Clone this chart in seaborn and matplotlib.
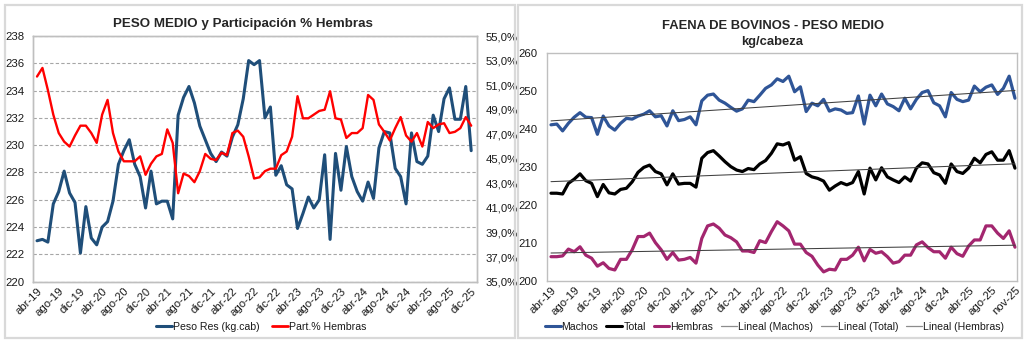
import numpy as np
import pandas as pd
import matplotlib
matplotlib.use("Agg")
import matplotlib.pyplot as plt
import seaborn as sns
from matplotlib.patches import Rectangle
from matplotlib.lines import Line2D
from matplotlib.ticker import FuncFormatter, MultipleLocator, FixedLocator

# ---------------- data ----------------
peso_res = [223.0, 223.1, 222.9, 225.7, 226.6, 228.1, 226.5, 225.8, 222.1, 225.5,
            223.2, 222.7, 224.0, 224.4, 225.9, 228.6, 229.6, 230.4, 228.6, 227.7,
            225.4, 228.1, 225.7, 225.9, 225.9, 224.6, 232.2, 233.5, 234.3, 233.1,
            231.4, 230.4, 229.4, 228.8, 229.5, 229.2, 230.6, 231.5, 233.4, 236.2,
            235.9, 236.2, 232.0, 232.8, 227.8, 228.5, 227.1, 226.8, 223.9, 225.0,
            226.2, 225.4, 226.0, 229.3, 223.1, 229.4, 226.7, 229.9, 227.7, 226.6,
            225.9, 227.3, 226.1, 229.8, 231.0, 230.9, 228.3, 227.7, 225.7, 230.9,
            228.8, 228.6, 229.2, 232.2, 231.0, 233.4, 234.2, 231.9, 231.9, 234.3,
            229.6]
part_hembras = [51.7, 52.4, 50.6, 48.6, 47.1, 46.4, 46.0, 46.9, 47.7, 47.7,
                47.1, 46.3, 48.6, 49.8, 47.1, 45.6, 44.8, 44.8, 44.8, 45.2,
                43.7, 44.6, 45.2, 45.4, 47.4, 46.3, 42.2, 43.8, 43.6, 43.1,
                44.0, 45.4, 45.0, 44.9, 45.5, 45.3, 47.1, 47.3, 46.8, 45.2,
                43.4, 43.5, 44.0, 44.2, 44.2, 45.3, 45.6, 46.8, 50.1, 48.3,
                48.3, 48.6, 48.9, 49.0, 50.5, 48.3, 48.2, 46.7, 47.1, 47.1,
                47.5, 50.2, 49.8, 47.8, 47.2, 46.5, 47.5, 48.4, 46.9, 46.4,
                47.1, 46.0, 48.0, 47.5, 47.8, 47.9, 47.1, 47.2, 47.5, 48.4,
                47.7]
machos = [241.1, 241.3, 239.5, 241.5, 243.1, 244.3, 243.1, 243.0, 238.6, 243.4,
          240.8, 239.7, 241.5, 242.8, 242.6, 243.4, 243.9, 244.8, 243.2, 243.5,
          240.8, 244.8, 242.2, 242.5, 243.2, 241.1, 247.4, 248.9, 249.2, 247.6,
          246.8, 245.7, 244.7, 245.3, 247.6, 247.2, 248.9, 250.7, 251.6, 253.2,
          252.5, 253.9, 249.8, 251.1, 244.6, 246.8, 246.1, 247.8, 244.7, 245.3,
          245.0, 244.1, 244.3, 248.7, 241.3, 248.9, 246.1, 249.2, 246.6, 245.9,
          244.8, 248.1, 245.3, 247.8, 249.6, 250.1, 246.9, 246.1, 243.2, 249.6,
          247.8, 247.2, 247.6, 251.3, 249.8, 251.0, 251.6, 249.1, 250.7, 253.9,
          248.1]
total = [223.1, 223.1, 222.9, 225.7, 226.8, 228.2, 226.4, 225.7, 222.2, 225.4,
         223.2, 222.9, 224.1, 224.4, 226.1, 228.6, 229.9, 230.5, 228.8, 228.2,
         225.3, 228.2, 225.5, 225.7, 225.7, 224.7, 232.3, 233.8, 234.3, 232.9,
         231.4, 230.1, 229.2, 228.8, 229.6, 229.3, 230.8, 231.7, 233.6, 236.1,
         235.8, 236.4, 231.8, 232.7, 228.3, 227.4, 227.0, 226.3, 223.9, 225.0,
         225.9, 225.3, 225.9, 228.8, 222.9, 229.7, 226.6, 229.8, 227.4, 226.6,
         225.9, 227.4, 226.3, 229.7, 231.1, 230.8, 228.5, 227.9, 225.7, 230.8,
         228.8, 228.3, 229.7, 232.3, 231.1, 233.3, 234.0, 231.8, 231.8, 234.3,
         229.7]
hembras = [206.4, 206.4, 206.6, 208.4, 207.7, 209.0, 206.8, 206.0, 203.9, 204.8,
           203.3, 202.9, 205.7, 205.7, 208.2, 211.7, 211.7, 212.6, 210.1, 208.2,
           205.7, 207.5, 205.5, 205.7, 206.2, 204.7, 211.2, 214.5, 215.0, 213.9,
           212.1, 211.4, 210.3, 207.9, 207.9, 207.5, 210.6, 210.1, 213.0, 215.6,
           214.5, 213.2, 209.7, 209.7, 207.5, 206.5, 204.2, 202.4, 203.1, 202.9,
           205.7, 205.7, 206.8, 208.9, 205.3, 208.3, 207.3, 207.7, 206.4, 204.7,
           205.1, 206.8, 206.8, 209.5, 210.3, 208.8, 207.7, 207.7, 206.0, 208.9,
           207.2, 206.5, 209.2, 210.8, 210.8, 214.5, 214.5, 212.6, 211.2, 213.2,
           208.9]
ticks_left = ["abr-19", "ago-19", "dic-19", "abr-20", "ago-20", "dic-20", "abr-21",
              "ago-21", "dic-21", "abr-22", "ago-22", "dic-22", "abr-23", "ago-23",
              "dic-23", "abr-24", "ago-24", "dic-24", "abr-25", "ago-25", "dic-25"]
ticks_right = ["abr-19", "ago-19", "dic-19", "abr-20", "ago-20", "dic-20", "abr-21",
               "ago-21", "dic-21", "abr-22", "ago-22", "dic-22", "abr-23", "ago-23",
               "dic-23", "abr-24", "ago-24", "dic-24", "abr-25", "ago-25", "nov-25"]

# ---------------- style ----------------
sns.set_theme(style="white")
plt.rcParams['font.family'] = ['Liberation Sans', 'DejaVu Sans']
plt.rcParams['axes.edgecolor'] = '#BFBFBF'
plt.rcParams['axes.linewidth'] = 1.0

W, H = 1024, 348
fig = plt.figure(figsize=(W / 100, H / 100), dpi=100)
fig.patch.set_facecolor('white')


def rect(l, t, r, b):
    return [l / W, 1 - b / H, (r - l) / W, (b - t) / H]


# panel borders
for (l, t, r, b) in [(5, 5, 515, 338), (518, 5, 1022, 338)]:
    fig.add_artist(Rectangle((l / W, 1 - b / H), (r - l) / W, (b - t) / H,
                             transform=fig.transFigure, fill=False,
                             edgecolor='#D9D9D9', lw=1.6))

df_left = pd.DataFrame({"idx": np.arange(len(peso_res)),
                        "peso": peso_res, "part": part_hembras})
df_right = pd.DataFrame({"idx": np.arange(len(machos)), "machos": machos,
                         "total": total, "hembras": hembras})

C_BLUE_L = '#1F4E79'
C_RED = '#FF0000'
C_MACHOS = '#2F5597'
C_TOTAL = '#000000'
C_HEMB = '#A3266F'
C_TREND = '#404040'
TXT = '#1A1A1A'

# ---------------- left chart ----------------
ax1 = fig.add_axes(rect(33, 36, 477, 281.7))
ax1b = ax1.twinx()
sns.lineplot(data=df_left, x="idx", y="peso", ax=ax1, color=C_BLUE_L, lw=2.2)
sns.lineplot(data=df_left, x="idx", y="part", ax=ax1b, color=C_RED, lw=1.7)
ax1.set_ylim(220, 238)
ax1.yaxis.set_major_locator(MultipleLocator(2))
ax1b.set_ylim(35, 55)
ax1b.yaxis.set_major_locator(FixedLocator(np.arange(35, 56, 2)))
ax1b.yaxis.set_major_formatter(FuncFormatter(lambda v, p: f"{v:.1f}%".replace('.', ',')))
ax1.set_xlim(-0.74, 81.07)
ax1.set_xticks(np.arange(0, len(peso_res), 4))
ax1.set_xticklabels(ticks_left, rotation=45, ha='right', rotation_mode='anchor', fontsize=7.3)
ax1.grid(axis='y', color='#A6A6A6', ls=(0, (3, 2)), lw=0.8)
ax1.set_axisbelow(True)
for a in (ax1, ax1b):
    a.set_xlabel("")
    a.set_ylabel("")
    a.tick_params(length=0, labelsize=8.2, colors=TXT)
ax1.tick_params(axis='y', pad=6)
ax1b.tick_params(axis='y', pad=6)
ax1.tick_params(axis='x', pad=3)
for s in ax1b.spines.values():
    s.set_color('#BFBFBF')
fig.text(242.5 / W, 1 - 23.5 / H, "PESO MEDIO y Participación % Hembras",
         ha='center', va='center', fontsize=9.6, fontweight='bold')
h_left = [Line2D([], [], color=C_BLUE_L, lw=2.2), Line2D([], [], color=C_RED, lw=2.0)]
fig.legend(h_left, ["Peso Res (kg.cab)", "Part.% Hembras"], loc='center',
           bbox_to_anchor=(261 / W, 1 - 326.5 / H), ncol=2, frameon=False,
           fontsize=7.6, handlelength=1.5, handletextpad=0.1, columnspacing=1.2,
           labelcolor=TXT)

# ---------------- right chart ----------------
ax2 = fig.add_axes(rect(547, 53, 1017, 281))
sns.lineplot(data=df_right, x="idx", y="machos", ax=ax2, color=C_MACHOS, lw=2.3)
sns.lineplot(data=df_right, x="idx", y="total", ax=ax2, color=C_TOTAL, lw=2.3)
sns.lineplot(data=df_right, x="idx", y="hembras", ax=ax2, color=C_HEMB, lw=2.3)
for col in ["machos", "total", "hembras"]:
    sns.regplot(data=df_right, x="idx", y=col, ax=ax2, scatter=False, ci=None,
                line_kws=dict(color=C_TREND, lw=0.75))
ax2.set_ylim(200, 260)
ax2.yaxis.set_major_locator(MultipleLocator(10))
ax2.set_xlim(-0.69, 80.35)
xt = list(np.arange(0, 80, 4)) + [80]
ax2.set_xticks(xt)
ax2.set_xticklabels(ticks_right, rotation=45, ha='right', rotation_mode='anchor', fontsize=7.3)
ax2.set_xlabel("")
ax2.set_ylabel("")
ax2.tick_params(length=0, labelsize=8.2, colors=TXT)
ax2.tick_params(axis='y', pad=7)
ax2.tick_params(axis='x', pad=3)
fig.text(772.5 / W, 1 - 25.7 / H, "FAENA DE BOVINOS - PESO MEDIO",
         ha='center', va='center', fontsize=9.4, fontweight='bold')
fig.text(772.5 / W, 1 - 42.3 / H, "kg/cabeza",
         ha='center', va='center', fontsize=9.4, fontweight='bold')
h_right = [Line2D([], [], color=C_MACHOS, lw=2.2), Line2D([], [], color=C_TOTAL, lw=2.2),
           Line2D([], [], color=C_HEMB, lw=2.2), Line2D([], [], color='#8C8C8C', lw=0.9),
           Line2D([], [], color='#8C8C8C', lw=0.9), Line2D([], [], color='#8C8C8C', lw=0.9)]
fig.legend(h_right, ["Machos", "Total", "Hembras", "Lineal (Machos)", "Lineal (Total)",
                     "Lineal (Hembras)"], loc='center',
           bbox_to_anchor=(774.5 / W, 1 - 326.5 / H), ncol=6, frameon=False,
           fontsize=7.6, handlelength=1.5, handletextpad=0.1, columnspacing=0.75,
           labelcolor=TXT)

fig.savefig("out.png", dpi=100, facecolor='white')
